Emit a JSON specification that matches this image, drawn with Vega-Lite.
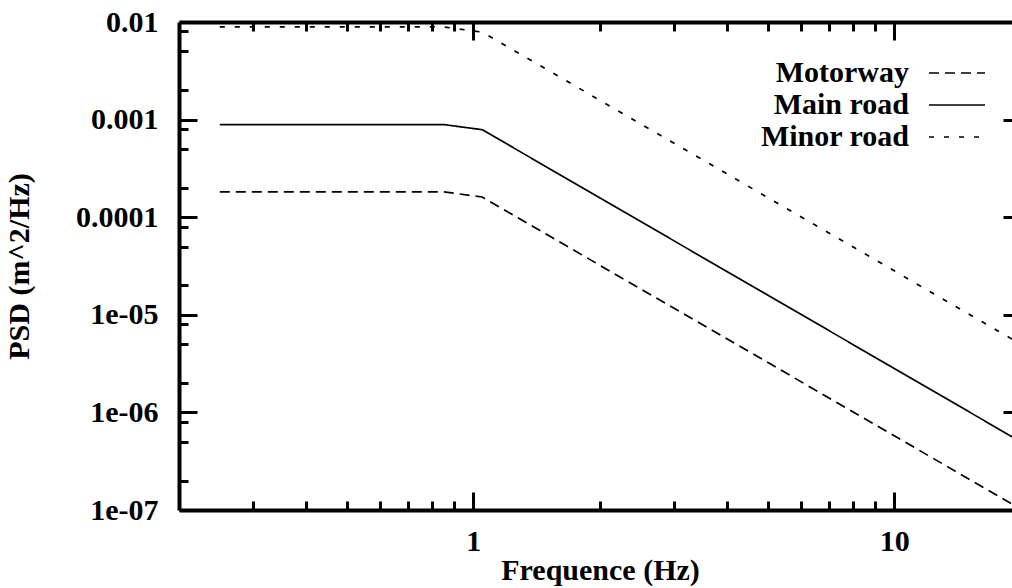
{
  "$schema": "https://vega.github.io/schema/vega-lite/v6.json",
  "width": 842,
  "height": 488,
  "autosize": {"type": "none"},
  "padding": {"left": 179, "top": 22, "right": -9, "bottom": 78},
  "background": "white",
  "config": {
    "view": {"stroke": null},
    "font": "Liberation Serif",
    "axis": {
      "grid": false,
      "domainColor": "black",
      "domainWidth": 4,
      "tickColor": "black",
      "tickWidth": 3,
      "labelFont": "Liberation Serif",
      "labelFontSize": 30,
      "labelFontWeight": "bold",
      "labelColor": "black",
      "titleFont": "Liberation Serif",
      "titleFontSize": 30,
      "titleFontWeight": "bold",
      "titleColor": "black"
    },
    "legend": {
      "labelFont": "Liberation Serif",
      "labelFontSize": 30,
      "labelFontWeight": "bold",
      "labelColor": "black"
    }
  },
  "datasets": {
    "psd": [
      {"f": 0.25, "psd": 0.000182, "road": "Motorway"},
      {"f": 0.85, "psd": 0.000182, "road": "Motorway"},
      {"f": 1.05, "psd": 0.000161, "road": "Motorway"},
      {"f": 1.25, "psd": 0.000104, "road": "Motorway"},
      {"f": 2, "psd": 0.0000321, "road": "Motorway"},
      {"f": 5, "psd": 0.00000326, "road": "Motorway"},
      {"f": 10, "psd": 0.000000575, "road": "Motorway"},
      {"f": 20, "psd": 0.000000102, "road": "Motorway"},
      {"f": 0.25, "psd": 0.00089, "road": "Main road"},
      {"f": 0.85, "psd": 0.00089, "road": "Main road"},
      {"f": 1.05, "psd": 0.000788, "road": "Main road"},
      {"f": 1.25, "psd": 0.00051, "road": "Main road"},
      {"f": 2, "psd": 0.0001575, "road": "Main road"},
      {"f": 5, "psd": 0.00001595, "road": "Main road"},
      {"f": 10, "psd": 0.00000282, "road": "Main road"},
      {"f": 20, "psd": 0.000000498, "road": "Main road"},
      {"f": 0.25, "psd": 0.0089, "road": "Minor road"},
      {"f": 0.85, "psd": 0.0089, "road": "Minor road"},
      {"f": 1.05, "psd": 0.00788, "road": "Minor road"},
      {"f": 1.25, "psd": 0.0051, "road": "Minor road"},
      {"f": 2, "psd": 0.001575, "road": "Minor road"},
      {"f": 5, "psd": 0.0001595, "road": "Minor road"},
      {"f": 10, "psd": 0.0000282, "road": "Minor road"},
      {"f": 20, "psd": 0.00000498, "road": "Minor road"}
    ]
  },
  "data": {"name": "psd"},
  "resolve": {"axis": {"x": "independent", "y": "independent"}},
  "layer": [
    {
      "mark": {"type": "line", "color": "black", "strokeWidth": 1.7},
      "encoding": {
        "x": {
          "field": "f", "type": "quantitative",
          "scale": {"type": "log", "domain": [0.2, 20], "nice": false},
          "axis": {
            "orient": "bottom", "values": [1, 10], "tickSize": -18,
            "labelPadding": 34, "labelExpr": "toString(datum.value)",
            "title": "Frequence (Hz)", "titlePadding": -1
          }
        },
        "y": {
          "field": "psd", "type": "quantitative",
          "scale": {"type": "log", "domain": [1e-7, 0.01], "nice": false},
          "axis": {
            "orient": "left",
            "values": [1e-7, 1e-6, 1e-5, 1e-4, 1e-3, 1e-2],
            "tickSize": -18, "labelPadding": 39,
            "labelExpr": "datum.value >= 0.0001 ? toString(datum.value) : '1e-0' + toString(round(-log(datum.value)/LN10))",
            "title": "PSD (m^2/Hz)", "titlePadding": 41
          }
        },
        "strokeDash": {
          "field": "road", "type": "nominal",
          "scale": {
            "domain": ["Motorway", "Main road", "Minor road"],
            "range": [[10, 6], [1, 0], [5, 10]]
          },
          "legend": {
            "title": null,
            "orient": "none",
            "legendX": 763,
            "legendY": 36,
            "padding": 0,
            "symbolType": "M-2,0H2",
            "symbolSize": 784,
            "symbolStrokeWidth": 1.7,
            "symbolStrokeColor": "black",
            "symbolFillColor": "transparent",
            "labelAlign": "right",
            "labelOffset": -63,
            "rowPadding": 2
          }
        }
      }
    },
    {
      "mark": {"type": "point", "opacity": 0},
      "encoding": {
        "x": {
          "field": "f", "type": "quantitative",
          "scale": {"type": "log", "domain": [0.2, 20], "nice": false},
          "axis": {
            "orient": "bottom", "values": [0.3, 0.4, 0.5, 0.6, 0.7, 0.8, 0.9, 2, 3, 4, 5, 6, 7, 8, 9],
            "tickSize": -9, "labels": false, "domain": false, "title": null
          }
        },
        "y": {
          "field": "psd", "type": "quantitative",
          "scale": {"type": "log", "domain": [1e-7, 0.01], "nice": false},
          "axis": {
            "orient": "left",
            "values": [0.008, 0.005, 0.002, 0.0008, 0.0005, 0.0002, 0.00008, 0.00005, 0.00002, 0.000008, 0.000005, 0.000002, 0.0000008, 0.0000005, 0.0000002],
            "tickSize": -9, "labels": false, "domain": false, "title": null
          }
        }
      }
    },
    {
      "mark": {"type": "point", "opacity": 0},
      "encoding": {
        "x": {
          "field": "f", "type": "quantitative",
          "scale": {"type": "log", "domain": [0.2, 20], "nice": false},
          "axis": {
            "orient": "top", "values": [1, 10],
            "tickSize": -18, "labels": false, "title": null
          }
        },
        "y": {
          "field": "psd", "type": "quantitative",
          "scale": {"type": "log", "domain": [1e-7, 0.01], "nice": false},
          "axis": {
            "orient": "right",
            "values": [1e-7, 1e-6, 1e-5, 1e-4, 1e-3, 1e-2],
            "tickSize": -18, "labels": false, "title": null
          }
        }
      }
    },
    {
      "mark": {"type": "point", "opacity": 0},
      "encoding": {
        "x": {
          "field": "f", "type": "quantitative",
          "scale": {"type": "log", "domain": [0.2, 20], "nice": false},
          "axis": {
            "orient": "top", "values": [0.3, 0.4, 0.5, 0.6, 0.7, 0.8, 0.9, 2, 3, 4, 5, 6, 7, 8, 9],
            "tickSize": -9, "labels": false, "domain": false, "title": null
          }
        },
        "y": {
          "field": "psd", "type": "quantitative",
          "scale": {"type": "log", "domain": [1e-7, 0.01], "nice": false},
          "axis": {
            "orient": "right",
            "values": [0.008, 0.005, 0.002, 0.0008, 0.0005, 0.0002, 0.00008, 0.00005, 0.00002, 0.000008, 0.000005, 0.000002, 0.0000008, 0.0000005, 0.0000002],
            "tickSize": -9, "labels": false, "domain": false, "title": null
          }
        }
      }
    }
  ]
}
